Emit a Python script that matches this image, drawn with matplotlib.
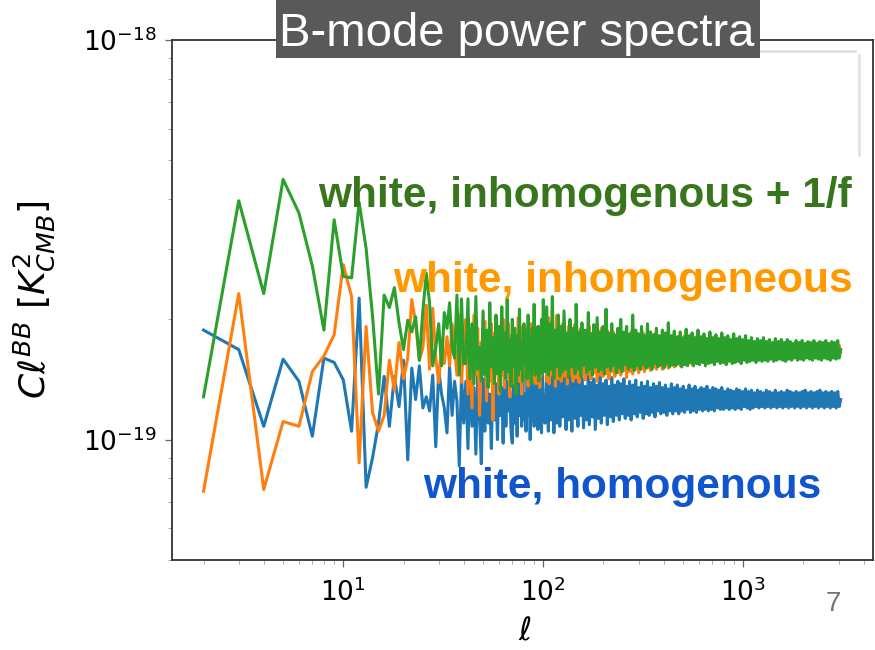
import numpy as np
import matplotlib
matplotlib.use("Agg")
import matplotlib.pyplot as plt
from matplotlib.lines import Line2D
from matplotlib.patches import Rectangle
from matplotlib.ticker import NullFormatter, LogLocator

UNIT = 1e-19  # values below are in units of 1e-19 K^2

blue_low = [1.88, 1.68, 1.08, 1.59, 1.40, 1.02, 1.60, 1.56, 1.41, 1.05,
            2.26, 0.76, 0.90, 1.10, 1.44, 1.08, 1.44, 1.21, 1.58, 0.89,
            1.51, 1.26, 1.53, 1.20, 1.28, 1.18, 1.45, 0.96, 1.50, 1.30,
            1.20, 1.04, 1.53, 1.15, 1.40, 1.25, 0.86, 1.45, 1.10]
orange_low = [0.743, 2.32, 0.75, 1.11, 1.08, 1.48, 1.62, 1.83, 2.74, 2.28,
              0.875, 1.92, 1.17, 1.05, 1.15, 1.58, 1.33, 1.75, 1.42, 1.60,
              2.24, 1.96, 1.58, 1.70, 2.17, 1.50, 2.13, 1.60, 1.39, 1.75,
              1.55, 1.81, 1.53, 1.95, 1.70, 1.45, 2.05, 1.39, 1.75]
green_low = [1.28, 3.96, 2.32, 4.48, 3.69, 2.72, 1.88, 3.55, 2.56, 2.54,
             3.92, 3.01, 2.04, 1.30, 2.30, 2.14, 2.40, 1.96, 1.68, 1.99,
             1.86, 2.03, 1.58, 2.10, 2.61, 2.20, 1.53, 1.70, 1.95, 1.53,
             2.08, 1.90, 2.20, 1.70, 1.60, 2.30, 1.45, 2.25, 1.55]

green_mid = [1.55, 2.25, 1.42, 1.95, 1.38, 2.28, 1.50, 1.70, 1.40, 2.10,
             1.45, 1.88, 1.35, 2.20, 1.52, 1.80, 1.38, 2.05, 1.46, 1.92,
             1.32, 2.15, 1.50, 1.85, 1.42, 2.25, 1.48, 1.78, 1.36, 2.00,
             1.52, 1.90, 1.30, 1.82, 1.45, 2.12, 1.50, 1.75, 1.40, 1.95,
             1.55, 1.85, 1.42, 2.05, 1.48, 1.80, 1.38, 1.90, 1.52, 2.18,
             1.45, 1.78, 1.50, 1.92, 1.40, 1.85, 1.55, 2.00, 1.46, 2.24]
orange_mid = [2.00, 1.30, 1.85, 1.20, 2.05, 1.45, 1.90, 1.15, 1.75, 1.50,
              1.98, 1.25, 1.80, 1.40, 1.95, 1.12, 1.85, 1.50, 1.70, 1.30,
              1.90, 1.45, 2.00, 1.35, 1.78, 1.55, 1.95, 1.28, 1.82, 1.48,
              1.88, 1.38, 1.75, 1.52, 2.02, 1.40, 1.80, 1.30, 1.92, 1.50,
              1.76, 1.42, 1.90, 1.36, 1.84, 1.50, 1.95, 1.40, 1.78, 1.46,
              1.88, 1.38, 1.80, 1.48, 1.92, 1.35, 1.84, 1.45, 1.78, 1.50]
blue_mid = [1.40, 0.95, 1.50, 1.08, 1.35, 0.92, 1.45, 1.15, 0.87, 1.42,
            1.05, 1.55, 1.10, 1.30, 0.95, 1.48, 1.12, 1.38, 1.00, 1.45,
            1.15, 1.35, 0.98, 1.50, 1.08, 1.40, 1.18, 1.32, 1.05, 0.98,
            1.45, 1.10, 1.38, 1.02, 1.48, 1.15, 1.35, 1.08, 1.42, 1.12,
            1.30, 1.05, 1.46, 1.15, 1.38, 1.00, 1.44, 1.12, 1.35, 1.08,
            1.50, 1.14, 1.36, 1.06, 1.42, 1.16, 1.33, 1.04, 1.45, 1.12]

green_high = [1.48, 2.15, 1.45, 1.95, 1.50, 2.28, 1.42, 1.88, 1.52, 2.05,
              1.44, 1.92, 1.48, 2.10, 1.50, 1.85, 1.43, 2.00, 1.52, 1.90,
              1.46, 2.18, 1.50, 1.86, 1.44, 1.96, 1.53, 1.88, 1.47, 2.08,
              1.50, 1.84, 1.45, 1.94, 1.52, 2.02, 1.48, 1.86, 1.50, 1.92,
              1.46, 2.12, 1.52, 1.85, 1.49, 1.95, 1.53, 1.83, 1.47, 1.90,
              1.51, 2.00, 1.48, 1.86, 1.54, 1.92, 1.50, 1.84, 1.52, 2.05,
              1.49, 1.88, 1.53, 1.84, 1.50, 1.92, 1.54, 1.82, 1.51, 1.95,
              1.53, 1.86, 1.50, 1.83, 1.55, 1.90, 1.52, 1.82, 1.54, 1.88,
              1.51, 1.85, 1.55, 1.96, 1.52, 1.82, 1.54, 1.87, 1.53, 1.81,
              1.55, 1.86, 1.52, 1.80, 1.54, 1.89, 1.53, 1.82, 1.56, 1.85,
              1.53, 1.80, 1.55, 1.88, 1.54, 1.81, 1.56, 1.84, 1.53, 1.79,
              1.55, 1.86, 1.56, 1.80, 1.54, 1.83, 1.57, 1.79, 1.55, 1.85,
              1.56, 1.80, 1.54, 1.82, 1.57, 1.78, 1.55, 1.84, 1.56, 1.79,
              1.57, 1.81, 1.55, 1.78, 1.58, 1.82, 1.56, 1.77, 1.57, 1.80,
              1.58, 1.76, 1.56, 1.79, 1.58, 1.77, 1.57, 1.80, 1.58, 1.76,
              1.57, 1.78, 1.59, 1.75, 1.57, 1.79, 1.58, 1.76, 1.59, 1.78,
              1.58, 1.75, 1.57, 1.78, 1.59, 1.76, 1.58, 1.74, 1.60, 1.77,
              1.58, 1.75, 1.59, 1.77, 1.58, 1.74, 1.60, 1.76, 1.59, 1.75,
              1.58, 1.77, 1.60, 1.74, 1.59, 1.76, 1.58, 1.75, 1.60, 1.77,
              1.59, 1.74, 1.58, 1.76, 1.60, 1.75, 1.59, 1.77, 1.60, 1.68]
orange_high = [1.95, 1.40, 2.02, 1.38, 1.90, 1.45, 1.85, 1.36, 2.05, 1.42,
               1.88, 1.40, 1.95, 1.44, 1.82, 1.38, 1.92, 1.46, 1.86, 1.40,
               1.94, 1.43, 1.84, 1.39, 1.90, 1.45, 1.86, 1.41, 1.80, 1.46,
               1.92, 1.42, 1.85, 1.47, 1.88, 1.40, 1.82, 1.45, 1.90, 1.44,
               1.83, 1.46, 1.88, 1.42, 1.80, 1.48, 1.86, 1.44, 1.82, 1.47,
               1.87, 1.45, 1.80, 1.49, 1.84, 1.43, 1.82, 1.48, 1.86, 1.46,
               1.80, 1.50, 1.84, 1.47, 1.81, 1.50, 1.85, 1.48, 1.79, 1.51,
               1.83, 1.49, 1.80, 1.52, 1.84, 1.50, 1.79, 1.53, 1.82, 1.50,
               1.80, 1.53, 1.83, 1.51, 1.78, 1.54, 1.82, 1.52, 1.79, 1.55,
               1.81, 1.53, 1.78, 1.55, 1.82, 1.54, 1.79, 1.56, 1.80, 1.54,
               1.78, 1.56, 1.81, 1.55, 1.77, 1.57, 1.80, 1.56, 1.78, 1.57,
               1.79, 1.56, 1.77, 1.58, 1.80, 1.57, 1.76, 1.58, 1.79, 1.57,
               1.76, 1.59, 1.78, 1.58, 1.75, 1.59, 1.78, 1.58, 1.76, 1.60,
               1.77, 1.59, 1.75, 1.60, 1.77, 1.59, 1.74, 1.60, 1.76, 1.60,
               1.74, 1.61, 1.76, 1.60, 1.73, 1.61, 1.75, 1.60, 1.74, 1.61,
               1.76, 1.60, 1.73, 1.61, 1.75, 1.60, 1.74, 1.61, 1.73, 1.60,
               1.75, 1.61, 1.73, 1.60, 1.74, 1.61, 1.72, 1.60, 1.74, 1.61,
               1.73, 1.60, 1.75, 1.61, 1.72, 1.60, 1.74, 1.61, 1.73, 1.60,
               1.74, 1.61, 1.72, 1.60, 1.75, 1.61, 1.73, 1.60, 1.74, 1.61,
               1.72, 1.60, 1.74, 1.61, 1.73, 1.60, 1.74, 1.61, 1.72, 1.66]
blue_high = [1.10, 1.50, 1.05, 1.42, 1.12, 1.48, 1.04, 1.38, 1.10, 1.52,
             1.08, 1.40, 1.14, 1.46, 1.06, 1.36, 1.12, 1.44, 1.05, 1.40,
             1.13, 1.47, 1.08, 1.38, 1.15, 1.43, 1.07, 1.36, 1.12, 1.45,
             1.09, 1.39, 1.14, 1.42, 1.06, 1.37, 1.13, 1.44, 1.10, 1.38,
             1.15, 1.41, 1.09, 1.36, 1.14, 1.43, 1.11, 1.37, 1.15, 1.40,
             1.12, 1.38, 1.16, 1.42, 1.13, 1.36, 1.15, 1.40, 1.12, 1.37,
             1.16, 1.41, 1.14, 1.35, 1.17, 1.39, 1.13, 1.36, 1.16, 1.40,
             1.15, 1.35, 1.17, 1.38, 1.14, 1.36, 1.18, 1.39, 1.16, 1.35,
             1.17, 1.37, 1.15, 1.34, 1.18, 1.38, 1.16, 1.35, 1.18, 1.37,
             1.16, 1.34, 1.18, 1.36, 1.17, 1.33, 1.19, 1.37, 1.17, 1.34,
             1.18, 1.36, 1.17, 1.33, 1.19, 1.35, 1.18, 1.34, 1.19, 1.36,
             1.18, 1.33, 1.19, 1.35, 1.18, 1.34, 1.20, 1.33, 1.19, 1.35,
             1.19, 1.32, 1.20, 1.34, 1.19, 1.33, 1.20, 1.32, 1.19, 1.34,
             1.20, 1.33, 1.19, 1.32, 1.21, 1.34, 1.20, 1.32, 1.19, 1.33,
             1.20, 1.31, 1.21, 1.33, 1.20, 1.32, 1.21, 1.31, 1.20, 1.33,
             1.21, 1.32, 1.20, 1.31, 1.21, 1.33, 1.20, 1.31, 1.21, 1.32,
             1.20, 1.31, 1.21, 1.33, 1.20, 1.32, 1.21, 1.31, 1.20, 1.32,
             1.21, 1.31, 1.20, 1.32, 1.21, 1.33, 1.20, 1.31, 1.21, 1.32,
             1.20, 1.31, 1.21, 1.32, 1.20, 1.33, 1.21, 1.31, 1.20, 1.32,
             1.21, 1.31, 1.20, 1.32, 1.21, 1.31, 1.20, 1.32, 1.21, 1.26]

# multipoles: every ell up to 100, log-sampled above
ell_low = np.arange(2, 2 + len(green_low))
ell_mid = np.arange(41, 41 + len(green_mid))
ell_high = np.round(np.geomspace(102, 3071, len(green_high))).astype(int)

x_ticks = [10, 100, 1000]
y_ticks = [1e-19, 1e-18]

title_text = "B-mode power spectra"
label_green = "white, inhomogenous + 1/f"
label_orange = "white, inhomogeneous"
label_blue = "white, homogenous"
slide_number = "7"

ell = np.concatenate([ell_low, ell_mid, ell_high])
blue = np.concatenate([blue_low, blue_mid, blue_high]) * UNIT
orange = np.concatenate([orange_low, orange_mid, orange_high]) * UNIT
green = np.concatenate([green_low, green_mid, green_high]) * UNIT

fig = plt.figure(figsize=(8.75, 6.5), dpi=100)
fig.patch.set_facecolor("white")
ax = fig.add_axes([0.1962, 0.1385, 0.801, 0.8])

ax.plot(ell, blue, color="#1f77b4", lw=2.2)
ax.plot(ell, orange, color="#ff7f0e", lw=2.2)
ax.plot(ell, green, color="#2ca02c", lw=2.2)

ax.set_xscale("log")
ax.set_yscale("log")
ax.margins(x=0.05)
ax.set_ylim(5e-20, 1e-18)
ax.set_xticks(x_ticks)
ax.set_yticks(y_ticks)
ax.xaxis.set_minor_locator(LogLocator(base=10, subs=np.arange(2, 10), numticks=20))
ax.yaxis.set_minor_locator(LogLocator(base=10, subs=np.arange(2, 10), numticks=20))
ax.yaxis.set_minor_formatter(NullFormatter())
ax.xaxis.set_minor_formatter(NullFormatter())

ax.tick_params(which="major", labelsize=19, length=5, width=0.9, color="#666666")
ax.tick_params(which="minor", length=3, width=0.7, color="#aaaaaa")
ax.tick_params(axis="x", which="major", pad=8)
ax.tick_params(axis="y", which="major", pad=6)
for s in ax.spines.values():
    s.set_linewidth(1.3)
    s.set_color("#333333")

ax.set_xlabel(r"$\ell$", fontsize=23)
ax.xaxis.set_label_coords(0.504, -0.108)
ax.set_ylabel(r"$C\ell^{BB}\ [K_{CMB}^2]$", fontsize=26)
ax.yaxis.set_label_coords(-0.163, 0.5)

# faint remnant of a legend frame
fig.add_artist(Line2D([759 / 875, 855 / 875], [1 - 51 / 650] * 2,
                      transform=fig.transFigure, color="#e0e0e0", lw=1.8))
fig.add_artist(Line2D([859 / 875] * 2, [1 - 55 / 650, 1 - 155 / 650],
                      transform=fig.transFigure, color="#e0e0e0", lw=1.8))

# slide title box
fig.add_artist(Rectangle((276 / 875, 1 - 58 / 650), (760 - 276) / 875, 58 / 650,
                         transform=fig.transFigure, facecolor="#595959",
                         edgecolor="none", zorder=10))
fig.text(279 / 875, 1 - 46 / 650, title_text, color="white", fontsize=34,
         family="Liberation Sans", ha="left", va="baseline", zorder=11)

txt = dict(fontsize=30.5, fontweight="bold", family="Liberation Sans",
           ha="left", va="baseline", zorder=12)
fig.text(318 / 875, 1 - 207 / 650, label_green, color="#38761d", **txt)
fig.text(393 / 875, 1 - 292 / 650, label_orange, color="#ff9900", **txt)
fig.text(423 / 875, 1 - 498 / 650, label_blue, color="#1155cc", **txt)
fig.text(826 / 875, 1 - 611 / 650, slide_number, color="#757575", fontsize=20,
         family="Liberation Sans", ha="left", va="baseline")

fig.savefig("out.png", dpi=100)
